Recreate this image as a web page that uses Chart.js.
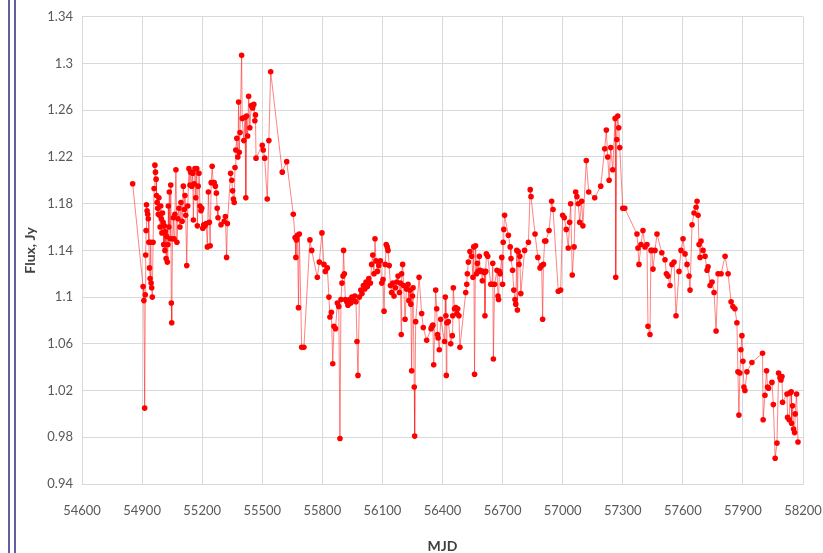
<!DOCTYPE html>
<html><head><meta charset="utf-8">
<script src="https://cdn.jsdelivr.net/npm/chart.js@4/dist/chart.umd.min.js"></script>
<style>html,body{margin:0;padding:0;background:#fff;overflow:hidden}#wrap{position:relative;width:823px;height:553px}</style>
</head><body><div id="wrap"><canvas id="c" width="823" height="553"></canvas></div>
<script>
const mjd = [
54853,54905,54909,54913,54916,54918,54920,54922,54925,54928,54931,54934,54937,54940,54943,54945,54948,54951,54955,54960,
54964,54967,54970,54972,54975,54978,54981,54984,54987,54990,54993,54996,54999,55002,55005,55008,55011,55014,55017,55020,
55023,55026,55029,55031,55034,55036,55040,55043,55046,55048,55052,55056,55060,55064,55069,55074,55079,55084,55089,55094,
55100,55106,55111,55114,55118,55123,55128,55134,55139,55143,55148,55153,55156,55160,55164,55168,55173,55176,55180,55184,
55189,55194,55198,55203,55208,55214,55220,55226,55231,55236,55240,55245,55250,55255,55260,55266,55271,55275,55279,55294,
55310,55316,55322,55326,55342,55348,55352,55356,55360,55364,55368,55373,55378,55382,55385,55389,55397,55400,55408,55414,
55418,55422,55427,55432,55438,55445,55452,55458,55463,55466,55469,55500,55505,55512,55525,55533,55542,55600,55622,55655,
55664,55668,55671,55676,55681,55685,55697,55708,55738,55747,55775,55785,
55798,55808,55815,55825,55833,55838,55845,55852,55858,55866,55875,55882,55888,55893,55898,55903,55906,55910,55915,55922,
55928,55935,55942,55948,55955,55962,55968,55973,55978,55985,55992,55998,56005,56012,56018,56025,56032,56040,56046,56052,
56058,56063,56068,56075,56082,56090,56097,56103,56108,56114,56119,56124,56128,56134,56140,56146,56152,56158,56165,56172,
56178,56185,56190,56194,56196,56201,56206,56213,56220,56228,56232,56238,56242,56246,56250,56253,56259,56261,56266,56283,
56296,56304,56321,56343,56348,56352,56356,56366,56371,56375,56378,56384,56391,56410,56414,56417,56419,56422,56429,56441,
56449,56451,56454,56460,56466,56472,56476,56482,56487,56516,56521,56524,56529,56537,56546,56552,56556,56560,56565,56570,
56574,56578,56584,56588,56594,56599,56604,56610,56612,56616,56619,56626,56641,56647,56651,56654,56660,56672,56677,56680,
56684,56688,56696,56700,56703,56706,56710,56729,56738,56742,56750,56756,56762,56766,56771,56774,56778,56782,56786,56791,
56810,56829,56838,56842,56862,56876,56887,56895,56900,56904,56910,56916,56932,56945,56952,56978,56990,57000,57008,57018,
57028,57035,57040,57048,57057,57065,57071,57078,57085,57095,57101,57118,57130,57160,57190,57210,57218,57225,57232,57240,
57250,57262,57265,57270,57275,57280,57285,57300,57310,
57371,57376,57381,57391,57401,57411,57421,57426,57436,57441,57446,57451,57461,57471,57495,57511,57518,57526,57536,57546,
57556,57566,57581,57591,57601,57611,57621,57631,57636,57646,57656,57666,57671,57676,57681,57686,57691,57701,57711,57721,
57726,57736,57746,57756,57766,57776,57791,57811,57826,57841,57850,57860,57870,57875,57880,57885,57890,57895,57900,57905,
57910,57920,57945,57998,58001,58010,58018,58023,58028,58045,58052,58061,58070,58078,58085,58090,58095,58098,58120,58123,
58131,58136,58141,58143,58148,58153,58158,58161,58168,58175
];
const flux = [
1.197,1.109,1.097,1.005,1.102,1.136,1.157,1.179,1.174,1.171,1.167,1.147,1.125,1.116,1.147,1.112,1.108,1.100,1.147,1.193,
1.213,1.207,1.201,1.187,1.181,1.176,1.171,1.185,1.170,1.160,1.178,1.167,1.155,1.172,1.164,1.145,1.161,1.140,1.156,1.133,
1.152,1.130,1.145,1.178,1.160,1.190,1.150,1.196,1.095,1.078,1.150,1.168,1.150,1.171,1.209,1.147,1.167,1.176,1.160,1.181,
1.165,1.195,1.175,1.187,1.170,1.127,1.178,1.210,1.196,1.207,1.195,1.206,1.166,1.197,1.210,1.185,1.210,1.161,1.195,1.206,
1.178,1.174,1.176,1.159,1.162,1.161,1.163,1.143,1.190,1.164,1.144,1.198,1.212,1.198,1.198,1.195,1.189,1.176,1.168,1.162,
1.165,1.169,1.134,1.163,1.206,1.200,1.191,1.184,1.181,1.211,1.226,1.236,1.220,1.267,1.224,1.241,1.307,1.253,1.234,1.254,
1.185,1.255,1.238,1.272,1.245,1.264,1.262,1.265,1.251,1.256,1.219,1.230,1.226,1.219,1.184,1.234,1.293,1.207,1.216,1.171,
1.151,1.134,1.149,1.153,1.091,1.154,1.057,1.057,1.149,1.140,1.117,1.130,
1.155,1.128,1.122,1.125,1.100,1.083,1.087,1.043,1.075,1.073,1.095,1.092,0.979,1.098,1.112,1.118,1.140,1.120,1.098,1.096,
1.093,1.098,1.095,1.100,1.097,1.101,1.096,1.062,1.033,1.100,1.106,1.103,1.110,1.107,1.113,1.109,1.116,1.112,1.128,1.136,
1.120,1.150,1.131,1.122,1.127,1.131,1.112,1.115,1.088,1.128,1.145,1.143,1.140,1.127,1.110,1.104,1.112,1.101,1.108,1.113,
1.118,1.104,1.112,1.068,1.120,1.128,1.110,1.081,1.107,1.111,1.097,1.106,1.094,1.037,1.101,1.108,1.023,0.981,1.079,1.117,
1.086,1.074,1.063,1.073,1.075,1.076,1.042,1.106,1.090,1.068,1.065,1.055,1.081,1.062,1.100,1.084,1.033,1.078,1.079,1.060,
1.067,1.084,1.108,1.090,1.091,1.086,1.090,1.084,1.057,1.104,1.111,1.120,1.130,1.139,1.135,1.117,1.143,1.034,1.144,1.120,
1.129,1.122,1.135,1.123,1.122,1.114,1.122,1.121,1.084,1.122,1.137,1.135,1.111,1.111,1.129,1.047,1.111,1.123,1.101,1.098,
1.122,1.120,1.134,1.111,1.147,1.158,1.170,1.153,1.143,1.133,1.123,1.106,1.098,1.094,1.140,1.089,1.139,1.128,1.135,1.103,
1.140,1.147,1.192,1.186,1.154,1.134,1.125,1.127,1.081,1.128,1.148,1.148,1.157,1.182,1.175,1.105,1.106,1.170,1.168,1.158,
1.142,1.164,1.180,1.119,1.143,1.190,1.186,1.180,1.164,1.182,1.161,1.217,1.190,1.185,1.195,1.227,1.243,1.220,1.200,1.228,
1.209,1.253,1.117,1.235,1.255,1.245,1.228,1.176,1.176,
1.154,1.142,1.128,1.145,1.157,1.143,1.145,1.075,1.068,1.140,1.140,1.124,1.140,1.154,1.138,1.132,1.120,1.118,1.110,1.128,
1.130,1.084,1.122,1.140,1.150,1.137,1.128,1.118,1.106,1.162,1.172,1.177,1.182,1.170,1.145,1.134,1.148,1.140,1.135,1.123,
1.126,1.110,1.113,1.104,1.071,1.120,1.120,1.135,1.120,1.096,1.092,1.090,1.078,1.036,0.999,1.035,1.055,1.067,1.045,1.023,
1.020,1.036,1.044,1.052,0.995,1.016,1.037,1.023,1.022,1.027,1.008,0.962,0.975,1.035,1.031,1.029,1.032,1.010,1.017,0.997,
0.995,1.018,1.019,0.992,1.007,0.987,0.984,1.000,1.017,0.976
];
const xTicks = [54600,54900,55200,55500,55800,56100,56400,56700,57000,57300,57600,57900,58200];
const yTicks = [0.94,0.98,1.02,1.06,1.10,1.14,1.18,1.22,1.26,1.30,1.34];
const yTickLabels = ['0.94','0.98','1.02','1.06','1.1','1.14','1.18','1.22','1.26','1.3','1.34'];
const xTitle = 'MJD';
const yTitle = 'Flux, Jy';

const points = mjd.map((m, i) => ({x: m, y: flux[i]}));

const frameLines = {
  id: 'frameLines',
  beforeDraw(chart) {
    const ctx = chart.ctx;
    ctx.save();
    ctx.fillStyle = '#ffffff';
    ctx.fillRect(0, 0, chart.width, chart.height);
    ctx.strokeStyle = '#2b2b80';
    ctx.lineWidth = 1.5;
    [9, 15].forEach(x => { ctx.beginPath(); ctx.moveTo(x, 0); ctx.lineTo(x, chart.height); ctx.stroke(); });
    ctx.restore();
  }
};

const gridColor = '#d9d9d9';
new Chart(document.getElementById('c'), {
  type: 'scatter',
  data: { datasets: [{
    data: points,
    showLine: true,
    borderColor: 'rgba(255,30,30,0.55)',
    borderWidth: 1,
    pointRadius: 2.8,
    pointHoverRadius: 2.8,
    pointBorderWidth: 0,
    pointBackgroundColor: '#ff0000',
    tension: 0
  }]},
  options: {
    responsive: false,
    animation: false,
    layout: { padding: { left: 0, top: 13, right: 20, bottom: 0 } },
    plugins: { legend: { display: false }, tooltip: { enabled: false } },
    scales: {
      x: {
        type: 'linear', min: 54600, max: 58200,
        afterBuildTicks: s => { s.ticks = xTicks.map(v => ({value: v})); },
        afterFit: s => { s.height = 69; },
        grid: { color: gridColor, lineWidth: 1, drawTicks: true, tickLength: 19, tickColor: 'rgba(0,0,0,0)' },
        border: { color: gridColor },
        ticks: { padding: 0, color: '#595959', font: { family: 'Lato', size: 13 }, maxRotation: 0, autoSkip: false,
                 callback: v => String(v) },
        title: { display: true, text: xTitle, color: '#404040', font: { family: 'Lato', size: 14, weight: 'bold' }, padding: { top: 0, bottom: -2 } }
      },
      y: {
        type: 'linear', min: 0.94, max: 1.34,
        afterBuildTicks: s => { s.ticks = yTicks.map(v => ({value: v})); },
        afterFit: s => { s.width = 82; },
        grid: { color: gridColor, lineWidth: 1, drawTicks: false },
        border: { color: gridColor },
        ticks: { padding: 9, color: '#595959', font: { family: 'Lato', size: 13 },
                 callback: (v, i) => yTickLabels[i] },
        title: { display: true, text: yTitle, color: '#404040', font: { family: 'Lato', size: 14, weight: 'bold' }, padding: { top: 22, bottom: 0 } }
      }
    }
  },
  plugins: [frameLines]
});
</script>
</body></html>
